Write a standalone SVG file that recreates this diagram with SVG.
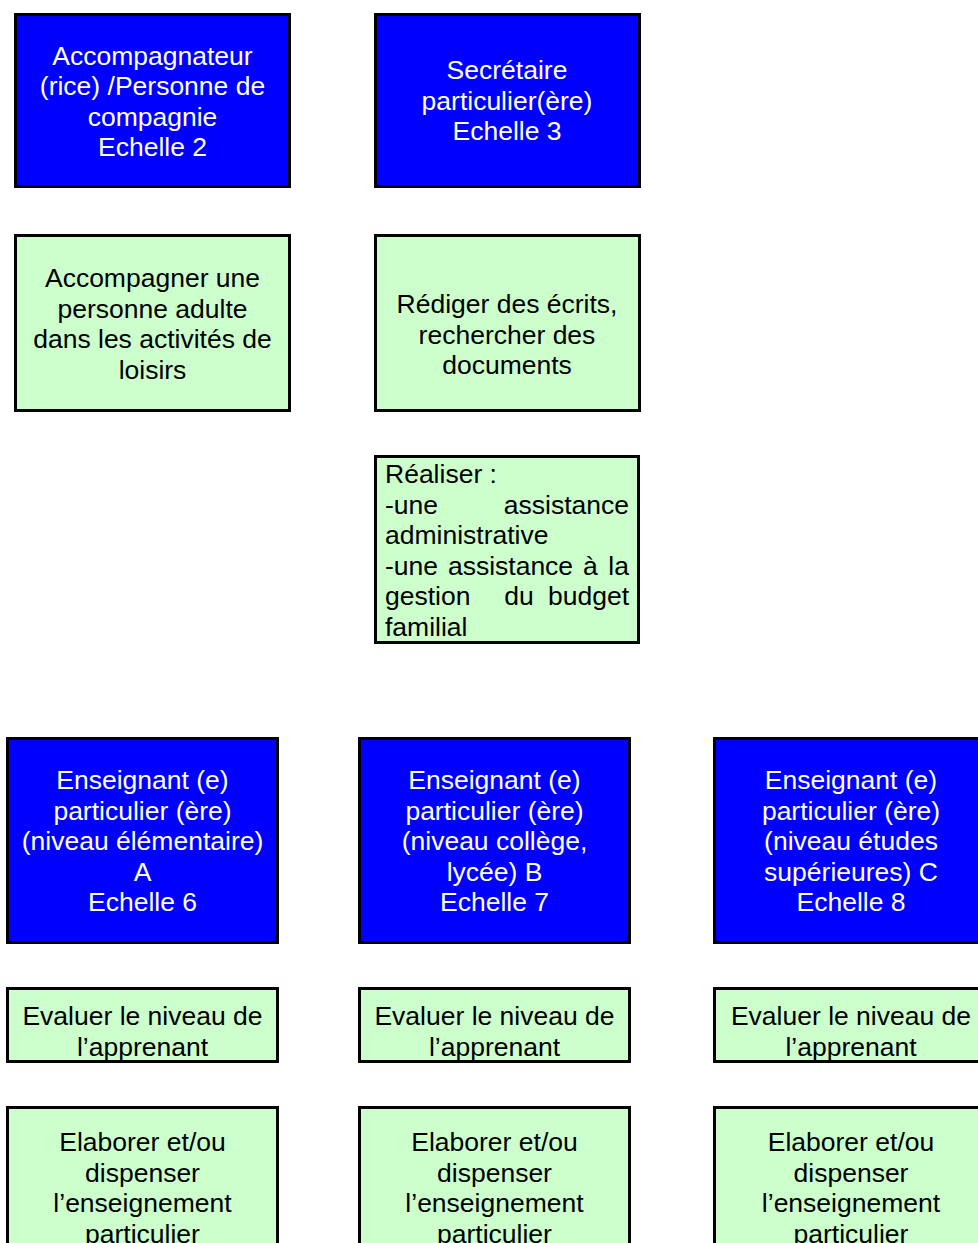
<svg xmlns="http://www.w3.org/2000/svg" width="978" height="1243" viewBox="0 0 978 1243">
<style>
.b{fill:#0000FF;stroke:#000;stroke-width:3}
.g{fill:#CCFFCC;stroke:#000;stroke-width:3}
text{font-family:"Liberation Sans",Arial,sans-serif;font-size:26.5px}
.w{fill:#fff;text-anchor:middle}
.k{fill:#000;text-anchor:middle}
.l{fill:#000}
</style>
<rect width="978" height="1243" fill="#fff"/>
<g id="connectors"></g>
<g id="n1">
<rect class="b" x="15.5" y="14.5" width="274" height="172"/>
<text class="w"><tspan x="152.5" y="64.5">Accompagnateur</tspan><tspan x="152.5" y="95">(rice) /Personne de</tspan><tspan x="152.5" y="125.5">compagnie</tspan><tspan x="152.5" y="156">Echelle 2</tspan></text>
</g>
<g id="n2">
<rect class="b" x="375.5" y="14.5" width="264" height="172"/>
<text class="w"><tspan x="507" y="79">Secrétaire</tspan><tspan x="507" y="109.5">particulier(ère)</tspan><tspan x="507" y="140">Echelle 3</tspan></text>
</g>
<g id="n3">
<rect class="g" x="15.5" y="235.5" width="274" height="175"/>
<text class="k"><tspan x="152.5" y="287">Accompagner une</tspan><tspan x="152.5" y="317.5">personne adulte</tspan><tspan x="152.5" y="348">dans les activités de</tspan><tspan x="152.5" y="378.5">loisirs</tspan></text>
</g>
<g id="n4">
<rect class="g" x="375.5" y="235.5" width="264" height="175"/>
<text class="k"><tspan x="507" y="313">Rédiger des écrits,</tspan><tspan x="507" y="343.5">rechercher des</tspan><tspan x="507" y="374">documents</tspan></text>
</g>
<g id="n5">
<rect class="g" x="375.5" y="456.5" width="263" height="186"/>
<text class="l" x="385" y="483">Réaliser :</text>
<text class="l" x="385" y="513.5">-une</text>
<text class="l" x="629" y="513.5" text-anchor="end">assistance</text>
<text class="l" x="385" y="544">administrative</text>
<text class="l" x="385" y="574.5" word-spacing="2.5">-une assistance à</text>
<text class="l" x="629" y="574.5" text-anchor="end">la</text>
<text class="l" x="385" y="605">gestion</text>
<text class="l" x="519" y="605" text-anchor="middle">du</text>
<text class="l" x="629" y="605" text-anchor="end">budget</text>
<text class="l" x="385" y="635.5">familial</text>
</g>
<g id="n6">
<rect class="b" x="7.5" y="738.5" width="270" height="204"/>
<text class="w"><tspan x="142.5" y="789">Enseignant (e)</tspan><tspan x="142.5" y="819.5">particulier (ère)</tspan><tspan x="142.5" y="850">(niveau élémentaire)</tspan><tspan x="142.5" y="880.5">A</tspan><tspan x="142.5" y="911">Echelle 6</tspan></text>
</g>
<g id="n7">
<rect class="b" x="359.5" y="738.5" width="270" height="204"/>
<text class="w"><tspan x="494.5" y="789">Enseignant (e)</tspan><tspan x="494.5" y="819.5">particulier (ère)</tspan><tspan x="494.5" y="850">(niveau collège,</tspan><tspan x="494.5" y="880.5">lycée) B</tspan><tspan x="494.5" y="911">Echelle 7</tspan></text>
</g>
<g id="n8">
<rect class="b" x="714.5" y="738.5" width="273" height="204"/>
<text class="w"><tspan x="851" y="789">Enseignant (e)</tspan><tspan x="851" y="819.5">particulier (ère)</tspan><tspan x="851" y="850">(niveau études</tspan><tspan x="851" y="880.5">supérieures) C</tspan><tspan x="851" y="911">Echelle 8</tspan></text>
</g>
<g id="n9">
<rect class="g" x="7.5" y="988.5" width="270" height="73"/>
<text class="k"><tspan x="142.5" y="1025">Evaluer le niveau de</tspan><tspan x="142.5" y="1055.5">l’apprenant</tspan></text>
</g>
<g id="n10">
<rect class="g" x="359.5" y="988.5" width="270" height="73"/>
<text class="k"><tspan x="494.5" y="1025">Evaluer le niveau de</tspan><tspan x="494.5" y="1055.5">l’apprenant</tspan></text>
</g>
<g id="n11">
<rect class="g" x="714.5" y="988.5" width="273" height="73"/>
<text class="k"><tspan x="851" y="1025">Evaluer le niveau de</tspan><tspan x="851" y="1055.5">l’apprenant</tspan></text>
</g>
<g id="n12">
<rect class="g" x="7.5" y="1107.5" width="270" height="200"/>
<text class="k"><tspan x="142.5" y="1151">Elaborer et/ou</tspan><tspan x="142.5" y="1181.5">dispenser</tspan><tspan x="142.5" y="1212">l’enseignement</tspan><tspan x="142.5" y="1242.5">particulier</tspan></text>
</g>
<g id="n13">
<rect class="g" x="359.5" y="1107.5" width="270" height="200"/>
<text class="k"><tspan x="494.5" y="1151">Elaborer et/ou</tspan><tspan x="494.5" y="1181.5">dispenser</tspan><tspan x="494.5" y="1212">l’enseignement</tspan><tspan x="494.5" y="1242.5">particulier</tspan></text>
</g>
<g id="n14">
<rect class="g" x="714.5" y="1107.5" width="273" height="200"/>
<text class="k"><tspan x="851" y="1151">Elaborer et/ou</tspan><tspan x="851" y="1181.5">dispenser</tspan><tspan x="851" y="1212">l’enseignement</tspan><tspan x="851" y="1242.5">particulier</tspan></text>
</g>
</svg>
